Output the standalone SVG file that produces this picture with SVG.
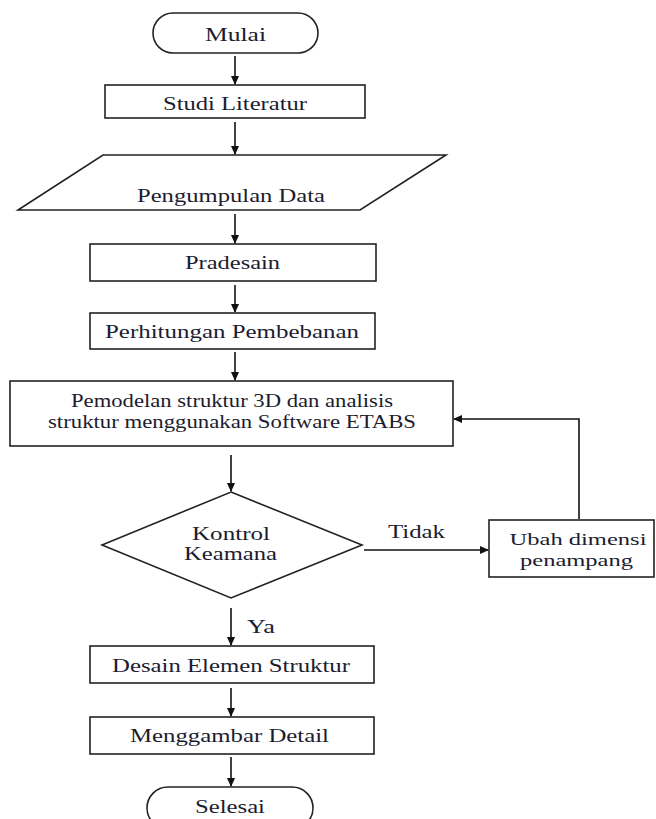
<svg xmlns="http://www.w3.org/2000/svg" width="656" height="819" viewBox="0 0 656 819">
<style>
.shape{fill:#fff;stroke:#222;stroke-width:1.6}
.t{font-family:"Liberation Serif","Times New Roman",serif;font-size:18px;fill:#1c1c30;text-anchor:middle}
.s{font-size:16px}
.c{fill:none;stroke:#111;stroke-width:1.6}
</style>
<defs>
<marker id="ah" markerWidth="9" markerHeight="8" refX="8" refY="4" orient="auto" markerUnits="userSpaceOnUse">
<path d="M0,0 L9,4 L0,8 z" fill="#111"/>
</marker>
</defs>
<rect width="656" height="819" fill="#fff"/>
<g id="mulai"><rect class="shape" x="153" y="13" width="165" height="40" rx="20"/><text class="t" x="235.5" y="41" textLength="61" lengthAdjust="spacingAndGlyphs">Mulai</text></g>
<g id="studi"><rect class="shape" x="105" y="85" width="260" height="33"/><text class="t" x="235" y="110" textLength="144" lengthAdjust="spacingAndGlyphs">Studi Literatur</text></g>
<g id="data"><polygon class="shape" points="103,155 446,155 360,210 18,210"/><text class="t" x="231" y="202" textLength="188" lengthAdjust="spacingAndGlyphs">Pengumpulan Data</text></g>
<g id="pradesain"><rect class="shape" x="90" y="244" width="286" height="37"/><text class="t" x="232.5" y="269" textLength="95" lengthAdjust="spacingAndGlyphs">Pradesain</text></g>
<g id="perhitungan"><rect class="shape" x="90" y="313" width="285" height="36"/><text class="t" x="232" y="338" textLength="254" lengthAdjust="spacingAndGlyphs">Perhitungan Pembebanan</text></g>
<g id="pemodelan"><rect class="shape" x="10" y="381" width="443" height="65"/><text class="t" x="232" y="407" textLength="322" lengthAdjust="spacingAndGlyphs">Pemodelan struktur 3D dan analisis</text><text class="t" x="232" y="428" textLength="368" lengthAdjust="spacingAndGlyphs">struktur menggunakan Software ETABS</text></g>
<g id="kontrol"><polygon class="shape" points="231,492 362,545 231,598 102,545"/><text class="t" x="231" y="540" textLength="78" lengthAdjust="spacingAndGlyphs">Kontrol</text><text class="t" x="230.5" y="560" textLength="93" lengthAdjust="spacingAndGlyphs">Keamana</text></g>
<g id="ubah"><rect class="shape" x="489" y="520" width="165" height="57"/><text class="t s" x="578" y="545" textLength="137" lengthAdjust="spacingAndGlyphs">Ubah dimensi</text><text class="t s" x="576.5" y="566" textLength="113" lengthAdjust="spacingAndGlyphs">penampang</text></g>
<g id="desain"><rect class="shape" x="90" y="646" width="284" height="37"/><text class="t" x="231" y="672" textLength="238" lengthAdjust="spacingAndGlyphs">Desain Elemen Struktur</text></g>
<g id="menggambar"><rect class="shape" x="90" y="717" width="284" height="37"/><text class="t" x="229.5" y="742" textLength="199" lengthAdjust="spacingAndGlyphs">Menggambar Detail</text></g>
<g id="selesai"><rect class="shape" x="147" y="787" width="166" height="42" rx="21"/><text class="t" x="230" y="813" textLength="70" lengthAdjust="spacingAndGlyphs">Selesai</text></g>
<g id="connectors">
<line class="c" x1="235" y1="56" x2="235" y2="84" marker-end="url(#ah)"/>
<line class="c" x1="235" y1="122" x2="235" y2="154" marker-end="url(#ah)"/>
<line class="c" x1="235" y1="214" x2="235" y2="243" marker-end="url(#ah)"/>
<line class="c" x1="235" y1="285" x2="235" y2="312" marker-end="url(#ah)"/>
<line class="c" x1="235" y1="352" x2="235" y2="380" marker-end="url(#ah)"/>
<line class="c" x1="231" y1="455" x2="231" y2="491" marker-end="url(#ah)"/>
<line class="c" x1="231" y1="608" x2="231" y2="645" marker-end="url(#ah)"/>
<line class="c" x1="231" y1="688" x2="231" y2="716" marker-end="url(#ah)"/>
<line class="c" x1="231" y1="757" x2="231" y2="786" marker-end="url(#ah)"/>
<line class="c" x1="364" y1="550" x2="488" y2="550" marker-end="url(#ah)"/>
<polyline class="c" points="579,519 579,419 454,419" marker-end="url(#ah)"/>
<text class="t" x="416.5" y="538" textLength="57" lengthAdjust="spacingAndGlyphs">Tidak</text>
<text class="t" x="261" y="633" textLength="28" lengthAdjust="spacingAndGlyphs">Ya</text>
</g>
</svg>
